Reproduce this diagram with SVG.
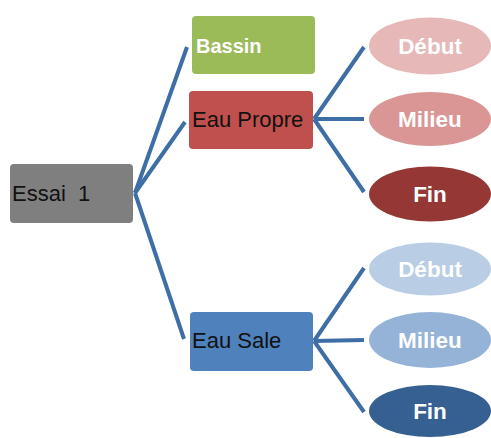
<svg xmlns="http://www.w3.org/2000/svg" width="491" height="438" viewBox="0 0 491 438">
<style>
.box{stroke:none}
.lbl{font-family:"Liberation Sans",Arial,sans-serif;font-size:22px;fill:#111;white-space:pre}
.wl{font-family:"Liberation Sans",Arial,sans-serif;font-size:22.5px;font-weight:bold;fill:#fff;text-anchor:middle}
.con{stroke:#3d6ea5;stroke-width:4;fill:none;stroke-linecap:butt}
</style>
<rect width="491" height="438" fill="#fff"/>
<g id="connectors">
<line class="con" x1="135" y1="193" x2="187" y2="47"/>
<line class="con" x1="135" y1="193" x2="185" y2="122"/>
<line class="con" x1="135" y1="193" x2="184" y2="339"/>
<line class="con" x1="314" y1="119" x2="364" y2="47"/>
<line class="con" x1="314" y1="119" x2="364" y2="119"/>
<line class="con" x1="314" y1="119" x2="364" y2="192"/>
<line class="con" x1="314" y1="341" x2="364" y2="268"/>
<line class="con" x1="314" y1="341" x2="364" y2="340"/>
<line class="con" x1="314" y1="341" x2="364" y2="412"/>
</g>
<g id="essai1">
<rect class="box" x="10" y="164" width="123" height="59" rx="4" fill="#7f7f7f"/>
<text class="lbl" x="12" y="201" xml:space="preserve">Essai  1</text>
</g>
<g id="bassin">
<rect class="box" x="192" y="16" width="123" height="58" rx="4" fill="#9bbb59"/>
<text x="196" y="53" font-family="Liberation Sans, Arial, sans-serif" font-size="20" font-weight="bold" fill="#fff">Bassin</text>
</g>
<g id="eau-propre">
<rect class="box" x="189" y="91" width="124" height="58" rx="4" fill="#c0504d"/>
<text class="lbl" x="192" y="127">Eau Propre</text>
</g>
<g id="eau-sale">
<rect class="box" x="190" y="312" width="123" height="59" rx="4" fill="#4f81bd"/>
<text class="lbl" x="192" y="348">Eau Sale</text>
</g>
<g id="debut-1">
<ellipse cx="430" cy="46" rx="61" ry="28.5" fill="#e6b9b8"/>
<text class="wl" x="430" y="54">Début</text>
</g>
<g id="milieu-1">
<ellipse cx="430" cy="119" rx="61" ry="27" fill="#d99694"/>
<text class="wl" x="430" y="127">Milieu</text>
</g>
<g id="fin-1">
<ellipse cx="430" cy="194" rx="61" ry="27.5" fill="#953735"/>
<text class="wl" x="430" y="202">Fin</text>
</g>
<g id="debut-2">
<ellipse cx="430" cy="269" rx="61" ry="26.5" fill="#b9cde5"/>
<text class="wl" x="430" y="277">Début</text>
</g>
<g id="milieu-2">
<ellipse cx="430" cy="340" rx="61" ry="28" fill="#95b3d7"/>
<text class="wl" x="430" y="348">Milieu</text>
</g>
<g id="fin-2">
<ellipse cx="430" cy="411" rx="61" ry="26" fill="#376092"/>
<text class="wl" x="430" y="419">Fin</text>
</g>
</svg>
